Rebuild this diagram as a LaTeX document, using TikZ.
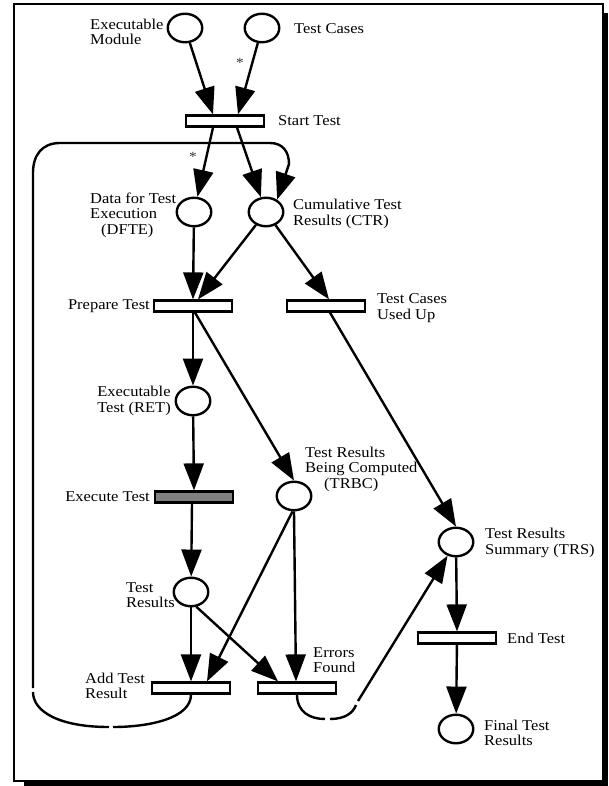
\documentclass[tikz,border=0pt]{standalone}
\usepackage{fontspec}
\setmainfont{Liberation Serif}[FakeStretch=1.1]
\usetikzlibrary{arrows.meta,shapes.geometric}
\begin{document}
\begin{tikzpicture}[x=1pt,y=-1pt,
  place/.style={ellipse,draw,line width=2.4pt,minimum width=34.5pt,minimum height=28.5pt,inner sep=0pt,fill=white},
  trans/.style={rectangle,draw,line width=2.4pt,minimum width=77.6pt,minimum height=10.8pt,inner sep=0pt,fill=white},
  arc/.style={line width=2.4pt,-{Triangle[length=27pt,width=20pt]}},
  plain/.style={line width=2.4pt},
  lbl/.style={inner sep=0pt,align=left,font=\fontsize{15pt}{15.5pt}\selectfont},
  star/.style={inner sep=0pt,font=\fontsize{14pt}{14pt}\selectfont,text=black!80}
]
\useasboundingbox (0,0) rectangle (608,786);

% page frame with drop shadow
\fill (24,781) rectangle (608,786);
\fill (603,13) rectangle (608,786);
\draw[line width=2pt] (14,4) rectangle (603,781);

% places and transitions
\node[place] (em) at (185,28) {};
\node[place] (tc) at (262,28) {};
\node[trans] (start) at (225,121) {};
\node[place] (dfte) at (194,212) {};
\node[place] (ctr) at (266,212) {};
\node[trans] (prep) at (193,306) {};
\node[trans] (used) at (326,306) {};
\node[place] (ret) at (193,401) {};
\node[trans,fill=black!50] (exec) at (194,497) {};
\node[place] (trbc) at (294,496) {};
\node[place] (trs) at (456,542) {};
\node[place] (tr) at (191,592) {};
\node[trans] (endt) at (457,638) {};
\node[trans] (add) at (191,688) {};
\node[trans] (err) at (297,688) {};
\node[place] (ftr) at (456,729) {};

% labels
\node[lbl,anchor=west] (emL) at (90,32) {Executable\\Module};
\node[lbl,anchor=west] (tcL) at (294,29) {Test Cases};
\node[lbl,anchor=west] (startL) at (278,121) {Start Test};
\node[star] (s1) at (240,63) {*};
\node[star] (s2) at (193,157) {*};
\node[lbl,anchor=west] (dfteL) at (90,215) {Data for Test\\Execution\\\hspace*{11pt}(DFTE)};
\node[lbl,anchor=west] (ctrL) at (293,214) {Cumulative Test\\Results (CTR)};
\node[lbl,anchor=east] (prepL) at (150,306) {Prepare Test};
\node[lbl,anchor=west] (usedL) at (377,308) {Test Cases\\Used Up};
\node[lbl,anchor=east] (retL) at (171,401) {Executable\\Test (RET)};
\node[lbl,anchor=east] (execL) at (150,497) {Execute Test};
\node[lbl,anchor=west] (trbcL) at (305,469) {Test Results\\Being Computed\\\hspace*{19pt}(TRBC)};
\node[lbl,anchor=west] (trsL) at (485,543) {Test Results\\Summary (TRS)};
\node[lbl,anchor=west] (trL) at (126,595) {Test\\Results};
\node[lbl,anchor=west] (endL) at (507,638) {End Test};
\node[lbl,anchor=west] (addL) at (85,686) {Add Test\\Result};
\node[lbl,anchor=west] (errL) at (313,660) {Errors\\Found};
\node[lbl,anchor=west] (ftrL) at (484,733) {Final Test\\Results};

% arcs
\draw[arc] (em) -- ([xshift=-12pt]start.north);
\draw[arc] (tc) -- ([xshift=13pt]start.north);
\draw[arc] ([xshift=-12pt]start.south) -- (dfte);
\draw[arc] ([xshift=12pt]start.south) -- (ctr);
\draw[arc] (dfte) -- (prep.north);
\draw[arc] (ctr) -- ([xshift=5pt]prep.north);
\draw[arc] (ctr) -- ([xshift=3pt]used.north);
\draw[arc] (prep.south) -- (ret);
\draw[arc] ([xshift=2pt]prep.south) -- (trbc.north);
\draw[arc] ([xshift=4pt]used.south) -- (trs.north);
\draw[arc] (ret) -- (exec.north);
\draw[arc] ([xshift=-2pt]exec.south) -- (tr);
\draw[arc] (tr) -- (add.north);
\draw[arc] ([xshift=-1.5pt]trbc.south) -- ([xshift=16pt]add.north);
\draw[arc] (tr.-70) -- ([xshift=-19pt]err.north);
\draw[arc] (trbc.south) -- ([xshift=-1pt]err.north);
\draw[arc] (trs) -- (endt.north);
\draw[arc] (endt) -- (ftr);

% feedback arc from Add Test Result back to CTR
\coordinate (l1) at (113,727);
\coordinate (l2) at (109,727);
\coordinate (l3) at (33,692);
\coordinate (l4) at (33,688);
\draw[plain] (add.south) .. controls (191,718) and (150,727) .. (l1);
\draw[plain] (l2) .. controls (60,727) and (33,712) .. (l3);
\draw[arc] (l4) -- (33,173) .. controls (33,155) and (42,143) .. (60,143)
  -- (270,143) .. controls (283,143) and (289,152) .. (289,164) -- (ctr.48);

% arc from Errors Found to TRS
\coordinate (e1) at (325,719);
\coordinate (e2) at (330,719);
\coordinate (e3) at (356,705);
\coordinate (e4) at (358,701);
\draw[plain] (err.south) .. controls (297,712) and (310,719) .. (e1);
\draw[plain] (e2) .. controls (345,719) and (353,713) .. (e3);
\draw[arc] (e4) -- (trs);
\end{tikzpicture}
\end{document}
